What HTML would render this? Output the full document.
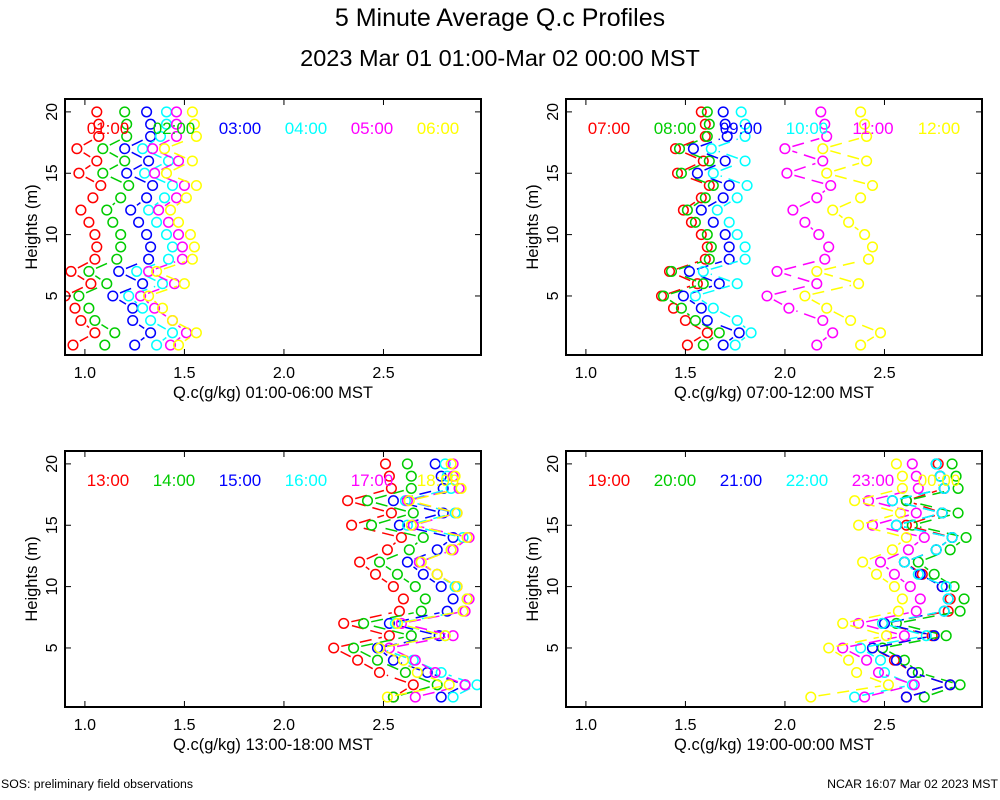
<!DOCTYPE html>
<html><head><meta charset="utf-8"><style>
body{margin:0;background:#fff;}
svg{display:block;font-family:"Liberation Sans",sans-serif;}
</style></head><body>
<svg id="chart" width="1000" height="800" viewBox="0 0 1000 800">
<rect width="1000" height="800" fill="#fff"/>
<text x="500" y="26" font-size="25" text-anchor="middle">5 Minute Average Q.c Profiles</text>
<text x="500" y="66" font-size="23.5" text-anchor="middle">2023 Mar 01 01:00-Mar 02 00:00 MST</text>
<text x="1" y="788" font-size="12.3">SOS: preliminary field observations</text>
<text x="998" y="788" font-size="12.3" text-anchor="end">NCAR 16:07 Mar 02 2023 MST</text>
</svg>
<script>
const heights = [1,2,3,4,5,6,7,8,9,10,11,12,13,14,15,16,17,18,19,20];
const xTicks = [1.0,1.5,2.0,2.5];
const xTickLabels = ["1.0","1.5","2.0","2.5"];
const yTicks = [5,10,15,20];
const colors = ["#ff0000","#00cc00","#0000ff","#00ffff","#ff00ff","#ffff00"];
const panelTitles = ["Q.c(g/kg) 01:00-06:00 MST","Q.c(g/kg) 07:00-12:00 MST","Q.c(g/kg) 13:00-18:00 MST","Q.c(g/kg) 19:00-00:00 MST"];
const panelLabels = [["01:00","02:00","03:00","04:00","05:00","06:00"],["07:00","08:00","09:00","10:00","11:00","12:00"],["13:00","14:00","15:00","16:00","17:00","18:00"],["19:00","20:00","21:00","22:00","23:00","00:00"]];
// values listed from height 1 to 20
const p1 = [
[0.94,1.05,0.98,0.95,0.90,1.03,0.93,1.05,1.06,1.05,1.02,0.98,1.04,1.08,0.97,1.06,0.96,1.07,1.07,1.06],
[1.10,1.15,1.05,1.02,0.97,1.11,1.02,1.16,1.18,1.18,1.14,1.11,1.18,1.22,1.09,1.20,1.09,1.21,1.21,1.20],
[1.25,1.33,1.24,1.24,1.14,1.29,1.17,1.32,1.33,1.31,1.27,1.23,1.31,1.34,1.21,1.32,1.20,1.33,1.33,1.31],
[1.36,1.44,1.33,1.29,1.22,1.39,1.26,1.42,1.44,1.41,1.36,1.32,1.40,1.44,1.30,1.42,1.29,1.38,1.41,1.41],
[1.43,1.51,1.44,1.35,1.28,1.45,1.32,1.49,1.49,1.47,1.42,1.37,1.46,1.50,1.35,1.47,1.34,1.46,1.46,1.46],
[1.47,1.56,1.44,1.39,1.32,1.50,1.36,1.54,1.55,1.53,1.47,1.43,1.51,1.56,1.41,1.54,1.40,1.56,1.55,1.54]];
const p2 = [
[1.51,1.61,1.50,1.44,1.38,1.56,1.42,1.60,1.61,1.58,1.53,1.49,1.58,1.62,1.46,1.59,1.45,1.60,1.60,1.58],
[1.59,1.67,1.55,1.48,1.39,1.59,1.43,1.62,1.63,1.61,1.55,1.51,1.60,1.64,1.48,1.62,1.47,1.61,1.62,1.61],
[1.69,1.77,1.61,1.58,1.49,1.67,1.52,1.72,1.72,1.70,1.64,1.58,1.69,1.72,1.56,1.70,1.54,1.71,1.70,1.69],
[1.75,1.83,1.76,1.64,1.55,1.76,1.59,1.80,1.80,1.76,1.72,1.66,1.76,1.81,1.64,1.80,1.63,1.80,1.80,1.78],
[2.16,2.24,2.19,2.02,1.91,2.16,1.96,2.20,2.22,2.17,2.10,2.04,2.16,2.23,2.01,2.19,2.00,2.21,2.20,2.18],
[2.38,2.48,2.33,2.21,2.10,2.37,2.16,2.42,2.44,2.40,2.32,2.24,2.38,2.44,2.21,2.41,2.19,2.41,2.40,2.38]];
const p3 = [
[2.55,2.65,2.48,2.37,2.25,2.53,2.30,2.58,2.60,2.55,2.46,2.38,2.52,2.59,2.34,2.54,2.32,2.54,2.53,2.51],
[2.55,2.77,2.61,2.47,2.35,2.64,2.40,2.69,2.71,2.66,2.57,2.48,2.63,2.70,2.44,2.65,2.42,2.64,2.64,2.62],
[2.79,2.91,2.72,2.55,2.47,2.78,2.53,2.82,2.85,2.79,2.70,2.62,2.77,2.85,2.58,2.80,2.55,2.80,2.79,2.76],
[2.85,2.97,2.79,2.65,2.48,2.81,2.56,2.90,2.92,2.86,2.77,2.68,2.84,2.90,2.62,2.86,2.61,2.84,2.82,2.81],
[2.66,2.91,2.76,2.66,2.53,2.85,2.59,2.91,2.93,2.87,2.77,2.68,2.85,2.93,2.65,2.87,2.62,2.88,2.85,2.85],
[2.52,2.83,2.67,2.60,2.48,2.81,2.57,2.90,2.92,2.87,2.77,2.69,2.84,2.92,2.64,2.87,2.63,2.89,2.86,2.84]];
const p4 = [
[2.61,2.83,2.64,2.55,2.44,2.74,2.49,2.82,2.83,2.79,2.69,2.60,2.76,2.84,2.61,2.79,2.61,2.80,2.78,2.77],
[2.70,2.88,2.67,2.60,2.49,2.81,2.56,2.88,2.90,2.85,2.75,2.67,2.83,2.91,2.64,2.87,2.61,2.87,2.86,2.84],
[2.61,2.83,2.64,2.56,2.44,2.75,2.50,2.80,2.82,2.79,2.68,2.60,2.76,2.84,2.56,2.79,2.54,2.80,2.78,2.76],
[2.35,2.64,2.50,2.48,2.38,2.71,2.49,2.80,2.82,2.81,2.67,2.60,2.76,2.84,2.56,2.79,2.54,2.80,2.78,2.76],
[2.40,2.65,2.47,2.41,2.29,2.60,2.37,2.66,2.68,2.63,2.55,2.48,2.62,2.70,2.44,2.66,2.42,2.67,2.66,2.64],
[2.13,2.52,2.36,2.32,2.22,2.51,2.29,2.57,2.59,2.55,2.46,2.39,2.54,2.61,2.37,2.58,2.35,2.59,2.59,2.56]];
const panelData = [p1,p2,p3,p4];
const panelNames = ["panel-01-06","panel-07-12","panel-13-18","panel-19-00"];

const NS = "http://www.w3.org/2000/svg";
const svg = document.getElementById("chart");
function mk(tag, attrs, parent){
  const e = document.createElementNS(NS, tag);
  for (const k in attrs) e.setAttribute(k, attrs[k]);
  (parent||svg).appendChild(e);
  return e;
}
const PW = 416, PH = 256;
const origins = [[65,99],[566,99],[65,451],[566,451]];
const xMin = 0.9, xMax = 2.99, yMin = 0.19, yMax = 21.05;
const R = 4.8;

panelData.forEach((series, pi) => {
  const [ox, oy] = origins[pi];
  const xs = v => ox + (v - xMin) / (xMax - xMin) * PW;
  const ys = h => oy + PH - (h - yMin) / (yMax - yMin) * PH;
  const g = mk("g", {});
  
  
  const clipId = "clip" + pi;
  const cp = mk("clipPath", {id: clipId}, g);
  mk("rect", {x: ox, y: oy, width: PW, height: PH}, cp);
  const marks = mk("g", {"clip-path": "url(#" + clipId + ")"}, g);
  series.forEach((vals, si) => {
    const sg = mk("g", {}, marks);
    
    
    for (let i = 0; i < vals.length - 1; i++) {
      const x1 = xs(vals[i]), y1 = ys(heights[i]), x2 = xs(vals[i+1]), y2 = ys(heights[i+1]);
      const dx = x2 - x1, dy = y2 - y1, L = Math.hypot(dx, dy);
      const gap = R + 3;
      if (L <= 2 * gap + 2) continue;
      const ux = dx / L, uy = dy / L;
      const seg = mk("line", {x1: (x1 + ux*gap).toFixed(1), y1: (y1 + uy*gap).toFixed(1), x2: (x2 - ux*gap).toFixed(1), y2: (y2 - uy*gap).toFixed(1), stroke: colors[si], "stroke-width": 1.5, "stroke-dasharray": "12,7"}, sg);
      
      
    }
    vals.forEach((v, i) => {
      const c = mk("circle", {cx: xs(v).toFixed(1), cy: ys(heights[i]).toFixed(1), r: R, fill: "none", stroke: colors[si], "stroke-width": 1.5}, sg);
      
      
    });
  });
  panelLabels[pi].forEach((lab, si) => {
    const t = mk("text", {x: ox + 43 + si * 66, y: oy + 35, "font-size": 17, "text-anchor": "middle", fill: colors[si]}, g);
    
    
    t.textContent = lab;
  });
  const fr = mk("rect", {x: ox, y: oy, width: PW, height: PH, fill: "none", stroke: "#000", "stroke-width": 2}, g);
  
  
  xTicks.forEach((t, i) => {
    const x = xs(t);
    mk("line", {x1: x, y1: oy + PH, x2: x, y2: oy + PH - 6, stroke: "#000"}, g);
    mk("line", {x1: x, y1: oy, x2: x, y2: oy + 6, stroke: "#000"}, g);
    const tl = mk("text", {x: x, y: oy + PH + 23, "font-size": 16, "text-anchor": "middle"}, g);
    
    
    tl.textContent = xTickLabels[i];
  });
  yTicks.forEach(t => {
    const y = ys(t);
    mk("line", {x1: ox, y1: y, x2: ox + 6, y2: y, stroke: "#000"}, g);
    mk("line", {x1: ox + PW, y1: y, x2: ox + PW - 6, y2: y, stroke: "#000"}, g);
    const tl = mk("text", {x: 0, y: 0, "font-size": 16, "text-anchor": "middle", transform: "translate(" + (ox - 8) + "," + y + ") rotate(-90)"}, g);
    
    
    tl.textContent = String(t);
  });
  const xt = mk("text", {x: ox + PW / 2, y: oy + PH + 43, "font-size": 16.5, "text-anchor": "middle"}, g);
  
  
  xt.textContent = panelTitles[pi];
  const yt = mk("text", {x: 0, y: 0, "font-size": 16.5, "text-anchor": "middle", transform: "translate(" + (ox - 28) + "," + (oy + PH / 2) + ") rotate(-90)"}, g);
  
  
  yt.textContent = "Heights (m)";
});
</script>
</body></html>
